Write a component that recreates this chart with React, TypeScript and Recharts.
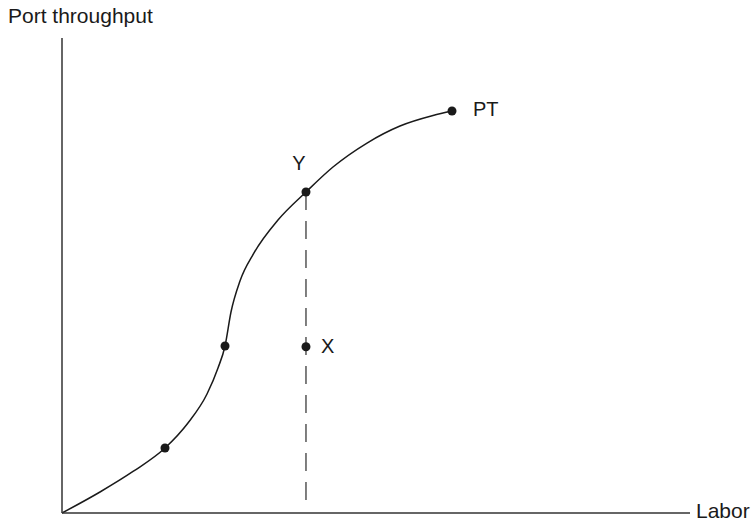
import { ComposedChart, Line, Scatter, XAxis, YAxis, ReferenceLine, LabelList, Label } from "recharts";

// production curve (labor -> port throughput)
const labor = [0, 6.05, 11.31, 16.4, 20.06, 23.09, 24.84, 25.96, 26.91, 28.34, 30.57, 34.39, 38.85, 43.15, 48.57, 53.82, 59.08, 62.1];
const throughput = [0, 4.42, 8.74, 13.68, 18.95, 25.05, 30.53, 35.16, 42.32, 48.84, 54.74, 61.68, 67.58, 72.84, 77.89, 81.47, 83.68, 84.63];

// marked points
const markLabor = [16.4, 25.96];
const markThroughput = [13.68, 35.16];
const yPoint = { labor: 38.85, throughput: 67.58, name: "Y" };
const ptPoint = { labor: 62.1, throughput: 84.63, name: "PT" };
const xPoint = { labor: 38.85, throughput: 35.0, name: "X" };
const dashBottom = 2.7;

const curve = labor.map((l, i) => ({ labor: l, throughput: throughput[i] }));
const marks = markLabor.map((l, i) => ({ labor: l, throughput: markThroughput[i] }));

const INK = "#1a1a1a";
const FONT = "'Liberation Sans', Arial, sans-serif";

const Dot = (props: any) => <circle cx={props.cx} cy={props.cy} r={4.5} fill={INK} />;

const pointLabel = (dx: number, dy: number, anchor: string) => (props: any) => (
  <text x={props.x + props.width / 2 + dx} y={props.y + props.height / 2 + dy} textAnchor={anchor} fill={INK} fontSize={20} fontFamily={FONT}>
    {props.value}
  </text>
);

export default function App() {
  return (
    <div style={{ position: "absolute", left: 0, top: 0, background: "#fff" }}>
      <ComposedChart width={751} height={524} data={curve} margin={{ top: 38, right: 61, bottom: 10, left: 61 }}>
        <XAxis
          dataKey="labor"
          type="number"
          domain={[0, 100]}
          tick={false}
          tickLine={false}
          height={1}
          stroke="#333"
          strokeWidth={1.5}
        >
          <Label
            content={(p: any) => (
              <text x={p.viewBox.x + p.viewBox.width + 6} y={518} fill={INK} fontSize={21} fontFamily={FONT}>
                Labor
              </text>
            )}
          />
        </XAxis>
        <YAxis
          dataKey="throughput"
          type="number"
          domain={[0, 100]}
          tick={false}
          tickLine={false}
          width={1}
          stroke="#333"
          strokeWidth={1.5}
        >
          <Label
            content={(p: any) => (
              <text x={8} y={p.viewBox.y - 15} fill={INK} fontSize={21} fontFamily={FONT}>
                Port throughput
              </text>
            )}
          />
        </YAxis>
        <ReferenceLine
          segment={[
            { x: yPoint.labor, y: yPoint.throughput },
            { x: yPoint.labor, y: dashBottom },
          ]}
          stroke="#555"
          strokeWidth={1.5}
          strokeDasharray="18 11"
        />
        <Line
          type="monotoneX"
          dataKey="throughput"
          stroke={INK}
          strokeWidth={1.5}
          dot={false}
          activeDot={false}
          isAnimationActive={false}
        />
        <Scatter data={marks} dataKey="throughput" shape={Dot} isAnimationActive={false} />
        <Scatter data={[yPoint]} dataKey="throughput" shape={Dot} isAnimationActive={false}>
          <LabelList dataKey="name" content={pointLabel(-7, -22, "middle")} />
        </Scatter>
        <Scatter data={[ptPoint]} dataKey="throughput" shape={Dot} isAnimationActive={false}>
          <LabelList dataKey="name" content={pointLabel(21, 5, "start")} />
        </Scatter>
        <Scatter data={[xPoint]} dataKey="throughput" shape={Dot} isAnimationActive={false}>
          <LabelList dataKey="name" content={pointLabel(15, 6, "start")} />
        </Scatter>
      </ComposedChart>
    </div>
  );
}
